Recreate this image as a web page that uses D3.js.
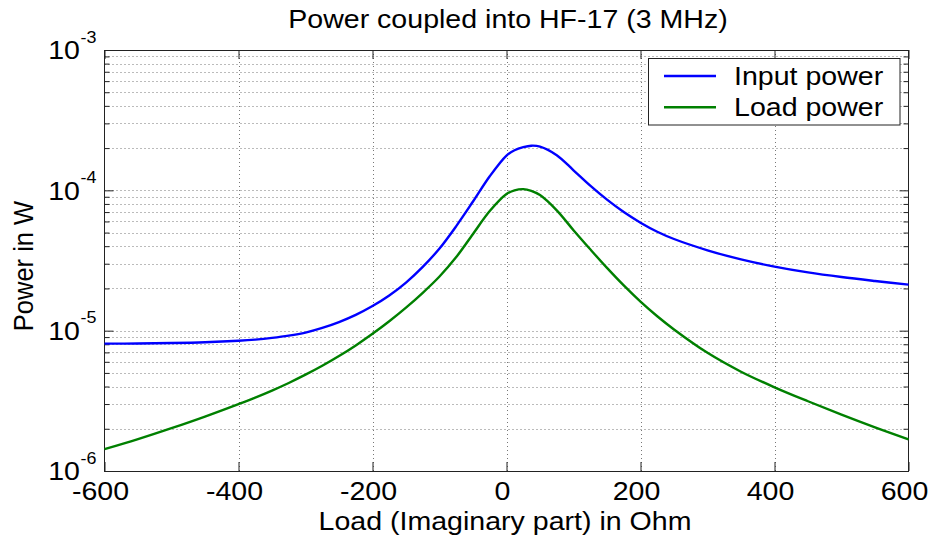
<!DOCTYPE html>
<html>
<head>
<meta charset="utf-8">
<script src="https://cdn.jsdelivr.net/npm/d3@7"></script>
<style>
  body { margin: 0; background: #fff; }
  text { font-family: "Liberation Sans", Arial, sans-serif; fill: #000; }
</style>
</head>
<body>
<svg id="chart" width="935" height="537"></svg>
<script>
// Reactance of the load (Ohm)
const reactance = [-600, -550, -500, -450, -400, -375, -350, -325, -300, -275, -250, -225,
  -200, -175, -150, -125, -100, -75, -50, -25, 0, 12, 25, 37, 50, 75, 100, 125, 150, 175,
  200, 225, 250, 300, 350, 400, 450, 500, 550, 600];

// Power delivered at the input (W)
const inputPower = [8.08e-6, 8.1e-6, 8.16e-6, 8.27e-6, 8.48e-6, 8.64e-6, 8.88e-6, 9.21e-6,
  9.69e-6, 1.046e-5, 1.151e-5, 1.295e-5, 1.497e-5, 1.78e-5, 2.2e-5, 2.847e-5, 3.85e-5,
  5.56e-5, 8.32e-5, 1.26e-4, 1.77e-4, 1.93e-4, 2.03e-4, 2.08e-4, 2.05e-4, 1.78e-4,
  1.39e-4, 1.08e-4, 8.58e-5, 7.0e-5, 5.88e-5, 5.07e-5, 4.5e-5, 3.74e-5, 3.22e-5, 2.86e-5,
  2.6e-5, 2.41e-5, 2.26e-5, 2.13e-5];

// Power dissipated in the load (W)
const loadPower = [1.43e-6, 1.687e-6, 2.02e-6, 2.445e-6, 3.0e-6, 3.337e-6, 3.744e-6, 4.24e-6,
  4.856e-6, 5.62e-6, 6.59e-6, 7.85e-6, 9.5e-6, 1.167e-5, 1.459e-5, 1.862e-5, 2.433e-5,
  3.345e-5, 4.89e-5, 7.115e-5, 9.41e-5, 1.0e-4, 1.02e-4, 9.9e-5, 9.25e-5, 7.2e-5, 5.2e-5,
  3.8e-5, 2.8e-5, 2.1e-5, 1.61e-5, 1.267e-5, 1.02e-5, 6.95e-6, 5.1e-6, 3.95e-6, 3.14e-6,
  2.52e-6, 2.045e-6, 1.68e-6];

const xTicks = [-600, -400, -200, 0, 200, 400, 600];
const yExponents = [-6, -5, -4, -3];
const seriesNames = ["Input power", "Load power"];
const titleText = "Power coupled into HF-17 (3 MHz)";
const xLabelText = "Load (Imaginary part) in Ohm";
const yLabelText = "Power in W";

const plotLeft = 104.5, plotRight = 908.5, plotTop = 50, plotBottom = 471;
const STRETCH = 1.12;
const FS = 25.5;

const svg = d3.select("#chart");
const x = d3.scaleLinear().domain([-600, 600]).range([plotLeft, plotRight]);
const y = d3.scaleLog().domain([1e-6, 1e-3]).range([plotBottom, plotTop]);

// minor log ticks (2..9 per decade)
const minorVals = [];
for (let e = -6; e < -3; e++) for (let m = 2; m <= 9; m++) minorVals.push(m * Math.pow(10, e));
const majorVals = yExponents.map(e => Math.pow(10, e));

// dotted grid
const grid = svg.append("g").attr("stroke", "#777").attr("stroke-width", 1)
  .attr("stroke-dasharray", "1,3").attr("fill", "none");
grid.selectAll("line.h").data(minorVals.concat(majorVals.slice(1, -1))).join("line")
  .attr("class", "h")
  .attr("x1", plotLeft).attr("x2", plotRight)
  .attr("y1", d => Math.round(y(d)) + 0.5).attr("y2", d => Math.round(y(d)) + 0.5);
grid.selectAll("line.v").data(xTicks.slice(1, -1)).join("line")
  .attr("class", "v")
  .attr("x1", d => Math.round(x(d)) + 0.5).attr("x2", d => Math.round(x(d)) + 0.5)
  .attr("y1", plotTop).attr("y2", plotBottom);

// axes with inward ticks
function styleAxis(g) {
  g.selectAll("text").remove();
  g.select(".domain").remove();
  g.selectAll("line").attr("stroke", "#222");
}
svg.append("g").attr("transform", `translate(0,${plotBottom})`)
  .call(d3.axisBottom(x).tickValues(xTicks).tickSize(-9).tickFormat("")).call(styleAxis);
svg.append("g").attr("transform", `translate(0,${plotTop})`)
  .call(d3.axisTop(x).tickValues(xTicks).tickSize(-9).tickFormat("")).call(styleAxis);
svg.append("g").attr("transform", `translate(${plotLeft},0)`)
  .call(d3.axisLeft(y).tickValues(majorVals).tickSize(-9).tickFormat("")).call(styleAxis);
svg.append("g").attr("transform", `translate(${plotRight},0)`)
  .call(d3.axisRight(y).tickValues(majorVals).tickSize(-9).tickFormat("")).call(styleAxis);
svg.append("g").attr("transform", `translate(${plotLeft},0)`)
  .call(d3.axisLeft(y).tickValues(minorVals).tickSize(-5).tickFormat("")).call(styleAxis);
svg.append("g").attr("transform", `translate(${plotRight},0)`)
  .call(d3.axisRight(y).tickValues(minorVals).tickSize(-5).tickFormat("")).call(styleAxis);

// box
svg.append("rect").attr("x", plotLeft).attr("y", plotTop + 0.5)
  .attr("width", plotRight - plotLeft).attr("height", plotBottom - plotTop)
  .attr("fill", "none").attr("stroke", "#222").attr("stroke-width", 1);

// curves
const line = d3.line().x((d, i) => x(reactance[i])).y(d => y(d))
  .curve(d3.curveCatmullRom.alpha(0.5));
const colors = ["#0000ff", "#008000"];
[inputPower, loadPower].forEach((s, k) => {
  svg.append("path").datum(s).attr("d", line).attr("fill", "none")
    .attr("stroke", colors[k]).attr("stroke-width", 2.4).attr("stroke-linejoin", "round");
});

// text helper with horizontal stretch
function label(px, py, str, anchor, size, rot) {
  const g = svg.append("g").attr("transform",
    `translate(${px},${py}) scale(${STRETCH},1)` + (rot ? ` rotate(${rot})` : ""));
  return g.append("text").attr("text-anchor", anchor).attr("font-size", size).text(str);
}

// x tick labels
xTicks.forEach(v => label(x(v) - 4, 500, v, "middle", FS));

// y tick labels 10^e
yExponents.forEach(e => {
  const yy = y(Math.pow(10, e));
  label(80, yy + 9.3, "10", "end", FS);
  label(80.5, yy - 7.3, String(e), "start", 16);
});

// title and axis labels
label(508, 28.3, titleText, "middle", FS);
label(505, 530, xLabelText, "middle", FS);
label(33, 266, yLabelText, "middle", FS, -90);

// legend
const lg = svg.append("g");
lg.append("rect").attr("x", 648.5).attr("y", 58.5).attr("width", 251.5).attr("height", 66.5)
  .attr("fill", "#fff").attr("stroke", "#222").attr("stroke-width", 1);
seriesNames.forEach((n, k) => {
  const ly = [76, 107.3][k];
  lg.append("line").attr("x1", 664).attr("x2", 716).attr("y1", ly).attr("y2", ly)
    .attr("stroke", colors[k]).attr("stroke-width", 2.4);
  label(734, ly + 9, n, "start", FS);
});
</script>
</body>
</html>
